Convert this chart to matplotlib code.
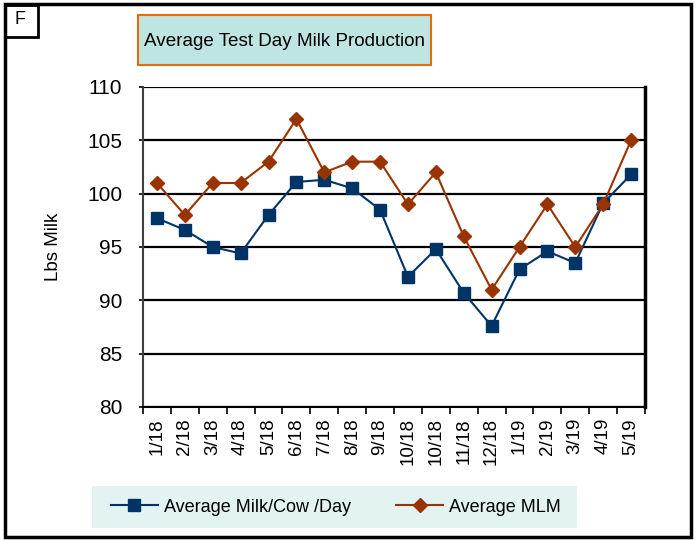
import numpy as np
import matplotlib.pyplot as plt
from matplotlib.patches import Rectangle

plt.rcParams['font.family'] = ['Liberation Sans', 'DejaVu Sans']

months = ['1/18', '2/18', '3/18', '4/18', '5/18', '6/18', '7/18', '8/18', '9/18',
          '10/18', '10/18', '11/18', '12/18', '1/19', '2/19', '3/19', '4/19', '5/19']
milk = [97.7, 96.6, 95.0, 94.4, 98.0, 101.1, 101.3, 100.5, 98.5,
        92.2, 94.8, 90.7, 87.6, 92.9, 94.6, 93.5, 99.1, 101.8]
mlm = [101, 98, 101, 101, 103, 107, 102, 103, 103,
       99, 102, 96, 91, 95, 99, 95, 99, 105]

W, H = 696, 540
fig = plt.figure(figsize=(W / 100, H / 100), dpi=100)
ax = fig.add_axes([143 / W, 1 - 407 / H, 502 / W, 320 / H])

x = np.arange(len(months))
ax.plot(x, milk, color='#003366', marker='s', markersize=8, linewidth=1.5,
        label='Average Milk/Cow /Day')
ax.plot(x, mlm, color='#993300', marker='D', markersize=7.5, linewidth=1.5,
        label='Average MLM')

ax.set_ylim(80, 110)
ax.set_xlim(-0.5, len(months) - 0.5)
ax.set_yticks(range(80, 111, 5))
ax.tick_params(axis='y', length=3, width=1.2, labelsize=15, pad=12)
ax.set_xticks(x)
ax.set_xticklabels(months, rotation=90, fontsize=13.5)
ax.tick_params(axis='x', which='major', length=0, pad=8)
ax.set_xticks(np.arange(-0.5, len(months), 1), minor=True)
ax.tick_params(axis='x', which='minor', length=5, width=1.2, direction='out')
ax.yaxis.grid(True, color='black', linewidth=1.6)
ax.set_axisbelow(True)
ax.spines['top'].set_visible(False)
ax.spines['right'].set_linewidth(2.5)
ax.spines['left'].set_linewidth(1.5)
ax.spines['left'].set_color('#404040')
ax.spines['bottom'].set_linewidth(1.5)
ax.set_ylabel('Lbs Milk', fontsize=13.5, labelpad=18)

# outer frame and corner tag
fig.patches.append(Rectangle((5 / W, 3 / H), 686 / W, 533 / H, transform=fig.transFigure,
                             fill=False, edgecolor='black', linewidth=2.5))
fig.patches.append(Rectangle((5 / W, 1 - 37 / H), 33 / W, 32 / H, transform=fig.transFigure,
                             fill=False, edgecolor='black', linewidth=2))
fig.text(14 / W, 1 - 19 / H, 'F', fontsize=13, va='center', ha='left')

# title box
fig.patches.append(Rectangle((138 / W, 1 - 65 / H), 293 / W, 50 / H, transform=fig.transFigure,
                             facecolor='#bfe5e3', edgecolor='#e46c0a', linewidth=1.5))
fig.text(284.5 / W, 1 - 41 / H, 'Average Test Day Milk Production', fontsize=13.6,
         ha='center', va='center')

# legend background
fig.patches.append(Rectangle((92 / W, 1 - 528 / H), 485 / W, 42 / H, transform=fig.transFigure,
                             facecolor='#e2f3f2', edgecolor='none'))
leg = fig.legend(loc='center', bbox_to_anchor=(336 / W, 1 - 507 / H), ncol=2,
                 fontsize=13, frameon=False, handlelength=2.6,
                 handletextpad=0.35, columnspacing=2.5, borderaxespad=0)

fig.savefig('out.png', dpi=100)
